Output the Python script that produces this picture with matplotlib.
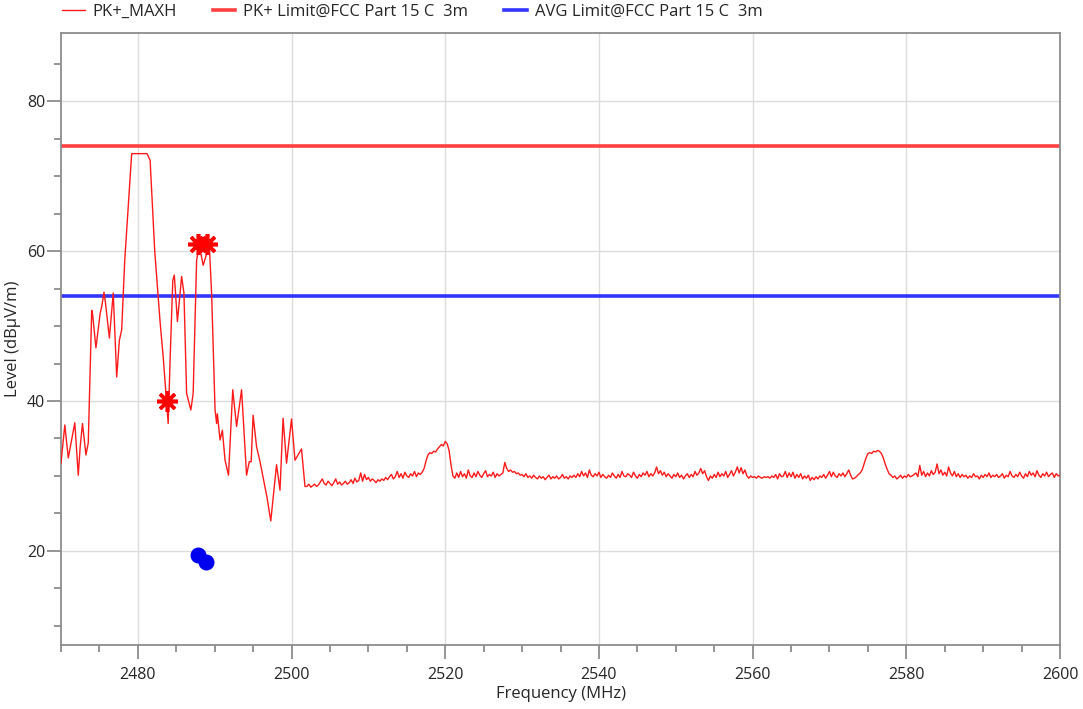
import matplotlib
matplotlib.use("Agg")
import matplotlib.pyplot as plt
import numpy as np
from matplotlib.ticker import MultipleLocator

plt.rcParams['font.family'] = ['Open Sans', 'DejaVu Sans']

# detailed part of the sweep, 2470 - 2502 MHz
freq_band = [2470.0, 2470.5, 2470.95, 2471.8, 2472.25, 2472.5, 2472.8, 2473.25, 2473.55, 2474.0,
             2474.1, 2474.55, 2475.1, 2475.3, 2475.6, 2475.8, 2476.3, 2476.8, 2477.25, 2477.6,
             2477.9, 2478.3, 2479.2, 2481.2, 2481.6, 2482.2, 2482.9, 2483.3, 2483.65, 2483.95,
             2484.2, 2484.55, 2484.75, 2485.15, 2485.7, 2486.0, 2486.35, 2486.9, 2487.2, 2487.65,
             2488.0, 2488.5, 2489.3, 2489.6, 2490.05, 2490.25, 2490.35, 2490.7, 2491.0, 2491.35,
             2491.8, 2492.35, 2492.85, 2493.5, 2494.15, 2494.5, 2494.75, 2495.0, 2495.45, 2495.9,
             2496.8, 2497.3, 2498.05, 2498.5, 2498.9, 2499.35, 2500.0, 2500.45, 2501.3, 2501.75]
level_band = [31.7, 36.8, 32.4, 37.1, 30.1, 33.9, 37.0, 32.8, 34.4, 52.1,
              51.7, 47.1, 51.7, 52.6, 54.5, 53.0, 48.4, 54.4, 43.2, 48.1,
              49.5, 58.8, 73.0, 73.0, 72.1, 60.0, 50.5, 45.9, 41.0, 37.0,
              45.5, 56.1, 56.8, 50.6, 56.6, 54.4, 41.0, 38.8, 41.0, 58.8,
              60.8, 58.1, 60.8, 54.4, 38.8, 37.0, 38.3, 34.8, 36.1, 32.1,
              30.1, 41.5, 36.6, 41.5, 30.1, 31.9, 31.9, 38.1, 33.9, 31.9,
              27.2, 24.0, 31.5, 28.1, 37.7, 31.7, 37.6, 32.1, 33.6, 28.6]

# rest of the sweep, 2502 - 2600 MHz in 0.25 MHz steps
freq_start, freq_stop, freq_step = 2502.0, 2600.0, 0.25
level_rest = [
    28.6, 28.9, 28.5, 28.7, 28.9, 28.6, 28.8, 29.2, 29.6, 29.0, 28.8, 29.3, 29.0, 28.7, 29.1, 29.6, 28.9, 29.2, 28.8, 29.0,
    29.3, 28.9, 29.1, 29.5, 29.0, 29.7, 29.2, 29.4, 30.4, 29.3, 30.2, 29.5, 29.8, 29.3, 29.6, 29.4, 29.1, 29.5, 29.3, 29.6,
    29.4, 29.8, 29.5, 29.9, 30.2, 29.6, 29.9, 30.6, 29.8, 30.3, 29.7, 30.5, 30.0, 29.8, 30.3, 30.0, 30.6, 29.9, 30.4, 30.2,
    30.5, 31.0, 32.0, 32.8, 33.1, 33.0, 33.3, 33.2, 33.6, 33.9, 34.2, 34.0, 34.6, 34.3, 33.4, 31.5, 30.0, 29.7, 30.4, 29.8,
    30.6, 29.9, 30.3, 29.7, 30.8, 30.0, 29.8, 30.4, 29.9, 30.6, 30.1, 29.8, 30.3, 30.7, 29.9, 30.2, 30.0, 30.5, 29.8, 30.3,
    30.0, 30.2, 30.4, 31.8, 31.0, 30.6, 30.8, 30.5, 30.6, 30.3, 30.4, 30.1, 30.2, 29.9, 30.3, 29.8, 30.0, 29.7, 30.1, 29.8,
    29.6, 30.0, 29.7, 29.9, 29.5, 29.8, 30.1, 29.6, 29.9, 29.7, 30.0, 29.6, 29.8, 30.2, 29.7, 29.9, 29.6, 30.0, 29.8, 30.1,
    29.8, 30.3, 29.9, 30.6, 30.0, 30.4, 29.8, 30.8, 30.1, 29.9, 30.3, 30.0, 30.5, 29.8, 30.2, 29.9, 29.7, 30.1, 29.8, 30.4,
    30.0, 29.7, 30.2, 29.8, 30.6, 30.0, 29.9, 30.3, 30.1, 29.8, 30.5, 30.0, 29.7, 30.2, 29.9, 30.4, 30.1, 30.6, 29.9, 30.3,
    30.0, 30.4, 31.2, 30.3, 30.7, 30.1, 30.5, 29.9, 30.3, 30.0, 29.7, 30.2, 29.9, 30.4, 29.8, 30.1, 29.6, 30.0, 30.3, 29.8,
    30.2, 29.9, 30.6, 30.1, 30.4, 31.0, 30.3, 30.7, 29.9, 29.4, 30.0, 29.7, 30.2, 29.8, 30.5, 29.9, 30.3, 30.0, 30.6, 29.8,
    30.2, 30.7, 30.0, 30.5, 31.2, 30.4, 31.1, 30.3, 30.8, 30.0, 29.7, 30.0, 29.8, 29.9, 29.7, 30.0, 29.8, 29.7, 29.9, 29.8,
    29.9, 29.7, 30.0, 29.8, 30.2, 29.6, 30.3, 29.9, 30.0, 30.6, 29.8, 30.4, 29.9, 30.5, 29.7, 30.2, 29.8, 30.3, 29.6, 30.0,
    29.7, 30.1, 29.4, 29.8, 29.5, 29.9, 29.6, 30.0, 29.8, 30.2, 29.7, 30.1, 30.6, 29.9, 30.5, 30.0, 29.8, 30.3, 30.0, 30.4,
    29.9, 30.3, 30.8, 30.1, 29.6, 29.7, 29.9, 30.2, 30.4, 30.8, 31.6, 32.4, 33.0, 33.1, 33.0, 33.3, 33.2, 33.4, 33.3, 33.0,
    32.4, 31.6, 30.9, 30.3, 30.1, 29.8, 30.0, 29.6, 29.8, 30.1, 29.7, 30.0, 29.8, 30.2, 29.9, 30.0, 30.2, 30.4, 29.9, 31.4,
    30.1, 30.6, 29.9, 30.4, 30.0, 30.7, 30.2, 30.5, 31.6, 30.3, 30.8, 30.1, 30.5, 30.0, 31.2, 30.4, 30.0, 30.6, 29.9, 30.3,
    29.8, 30.2, 29.9, 30.1, 29.7, 30.0, 29.8, 30.3, 29.9, 30.0, 29.6, 30.1, 29.8, 30.2, 29.9, 30.4, 29.8, 30.1, 29.9, 30.2,
    29.8, 30.0, 30.3, 29.7, 30.1, 29.9, 30.6, 30.0, 29.8, 30.2, 29.9, 30.5, 30.0, 29.7, 30.3, 29.9, 30.6, 30.1, 30.4, 29.9,
    30.7, 30.1, 29.8, 30.3, 30.0, 30.5, 29.9, 30.2, 30.4, 29.8, 30.3, 30.0, 30.1]

pk_limit = 74.0
avg_limit = 54.0

pk_marker_freq = [2483.75, 2487.8, 2489.0]
pk_marker_level = [40.0, 60.9, 60.9]
avg_marker_freq = [2487.8, 2488.9]
avg_marker_level = [19.5, 18.5]

freq_rest = np.arange(freq_start, freq_stop + freq_step / 2, freq_step)
assert len(freq_rest) == len(level_rest)
freq = np.concatenate([freq_band, freq_rest])
level = np.concatenate([level_band, level_rest])

fig = plt.figure(figsize=(10.83, 7.09), dpi=100)
ax = fig.add_axes([0.0563, 0.0903, 0.9225, 0.8632])

ax.plot(freq, level, color='#ff1a1a', lw=1.0, label='PK+_MAXH', zorder=3)
ax.axhline(pk_limit, color='#ff4040', lw=2.6, label='PK+ Limit@FCC Part 15 C  3m', zorder=2)
ax.axhline(avg_limit, color='#3434ff', lw=2.6, label='AVG Limit@FCC Part 15 C  3m', zorder=2)
ax.plot(pk_marker_freq, pk_marker_level, ls='none', marker=(8, 2, 0), ms=15, mew=2.6,
        color='#ff0000', zorder=4)
ax.plot(avg_marker_freq, avg_marker_level, ls='none', marker='o', ms=10.5,
        color='#0000ee', zorder=4)

ax.set_xlim(2470, 2600)
ax.set_ylim(7.45, 89.1)
ax.xaxis.set_major_locator(MultipleLocator(20))
ax.xaxis.set_minor_locator(MultipleLocator(5))
ax.yaxis.set_major_locator(MultipleLocator(20))
ax.yaxis.set_minor_locator(MultipleLocator(5))
ax.grid(True, which='major', color='#dcdcdc', lw=1.0)
ax.set_axisbelow(True)

for s in ax.spines.values():
    s.set_color('#8c8c8c')
    s.set_linewidth(1.3)
ax.tick_params(which='major', length=10, width=1.3, color='#8c8c8c',
               labelsize=11.5, labelcolor='#262626', pad=6)
ax.tick_params(which='minor', length=5, width=1.3, color='#8c8c8c')
ax.tick_params(axis='y', which='major', pad=1.5)

ax.set_xlabel('Frequency (MHz)', fontsize=12, color='#262626', labelpad=2)
ax.set_ylabel('Level (dBµV/m)', fontsize=12, color='#262626', labelpad=4)

ax.legend(loc='center left', bbox_to_anchor=(62 / 1083, 1 - 12 / 709),
          bbox_transform=fig.transFigure, ncol=3, frameon=False,
          fontsize=12, borderaxespad=0, borderpad=0, handlelength=1.35,
          handletextpad=0.48, columnspacing=2.15, labelcolor='#262626')

fig.savefig('out.png', dpi=100)
